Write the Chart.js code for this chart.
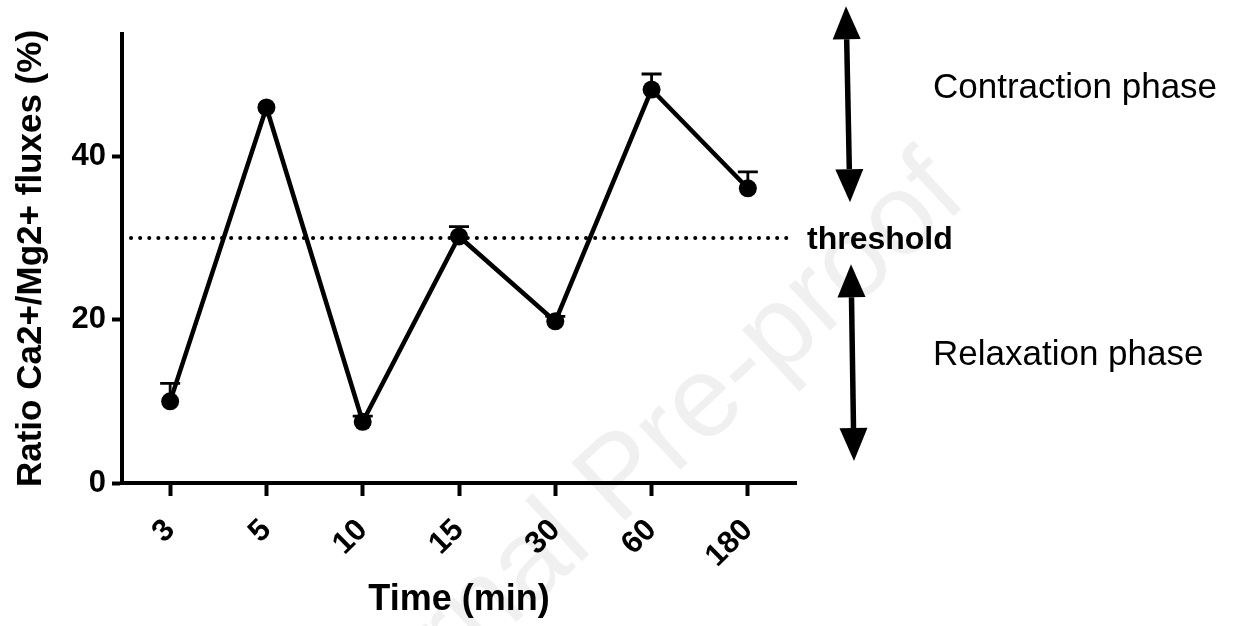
<!DOCTYPE html>
<html lang="en">
<head>
<meta charset="UTF-8">
<title>Ratio Ca2+/Mg2+ fluxes</title>
<script src="https://cdn.jsdelivr.net/npm/chart.js"></script>
<style>
    html, body { margin: 0; padding: 0; background: #fff; }
    #wrap { width: 1238px; height: 626px; }
</style>
</head>
<body>
<div id="wrap"><canvas id="fluxChart" width="1238" height="626"></canvas></div>
<script>
    // data
    const timeLabels = ['3', '5', '10', '15', '30', '60', '180'];
    const ratioMean = [10.0, 46.0, 7.5, 30.2, 19.8, 48.2, 36.1];
    const ratioSem = [2.2, 0, 0.7, 1.2, 0.6, 1.9, 2.0];
    const thresholdValue = 30;
    const yTicks = [0, 20, 40];

    const FONT = "'Liberation Sans', Arial, Helvetica, sans-serif";

    // upper error bars (mean + SEM), hidden when too small to show
    const errorBars = {
        id: 'errorBars',
        beforeDatasetsDraw(chart) {
            const ctx = chart.ctx;
            const xs = chart.scales.x, ys = chart.scales.y;
            ctx.save();
            ctx.strokeStyle = '#000';
            ctx.lineWidth = 2.8;
            ratioMean.forEach((m, i) => {
                if (!ratioSem[i]) return;
                const x = xs.getPixelForValue(i);
                const y0 = ys.getPixelForValue(m);
                const y1 = ys.getPixelForValue(m + ratioSem[i]);
                ctx.beginPath();
                ctx.moveTo(x, y0);
                ctx.lineTo(x, y1);
                ctx.moveTo(x - 10, y1);
                ctx.lineTo(x + 10, y1);
                ctx.stroke();
            });
            ctx.restore();
        }
    };

    // dotted threshold line + label
    const thresholdLine = {
        id: 'thresholdLine',
        beforeDatasetsDraw(chart) {
            const ctx = chart.ctx;
            const area = chart.chartArea;
            const y = chart.scales.y.getPixelForValue(thresholdValue);
            ctx.save();
            ctx.strokeStyle = '#000';
            ctx.lineWidth = 4;
            ctx.lineCap = 'round';
            ctx.setLineDash([0.1, 9]);
            ctx.beginPath();
            ctx.moveTo(area.left + 9, y);
            ctx.lineTo(area.right - 3, y);
            ctx.stroke();
            ctx.setLineDash([]);
            ctx.fillStyle = '#000';
            ctx.font = 'bold 32px ' + FONT;
            ctx.textBaseline = 'alphabetic';
            ctx.fillText('threshold', area.right + 11, y + 11);
            ctx.restore();
        }
    };

    function doubleArrow(ctx, x1, y1, x2, y2) {
        const head = 33, half = 14;
        const ang = Math.atan2(y2 - y1, x2 - x1);
        const c = Math.cos(ang), s = Math.sin(ang);
        ctx.beginPath();
        ctx.moveTo(x1 + c * head, y1 + s * head);
        ctx.lineTo(x2 - c * head, y2 - s * head);
        ctx.stroke();
        [[x1, y1, 1], [x2, y2, -1]].forEach(([x, y, d]) => {
            const bx = x + d * c * head, by = y + d * s * head;
            ctx.beginPath();
            ctx.moveTo(x, y);
            ctx.lineTo(bx - s * half, by + c * half);
            ctx.lineTo(bx + s * half, by - c * half);
            ctx.closePath();
            ctx.fill();
        });
    }

    // phase arrows and labels on the right
    const phases = {
        id: 'phases',
        afterDraw(chart) {
            const ctx = chart.ctx;
            const r = chart.chartArea.right;
            const ys = chart.scales.y;
            ctx.save();
            ctx.strokeStyle = '#000';
            ctx.fillStyle = '#000';
            ctx.lineWidth = 5.5;
            doubleArrow(ctx, r + 50, ys.getPixelForValue(58.4), r + 54, ys.getPixelForValue(34.4));
            doubleArrow(ctx, r + 55, ys.getPixelForValue(26.8), r + 58, ys.getPixelForValue(2.7));
            ctx.font = '35px ' + FONT;
            ctx.fillText('Contraction phase', r + 137, ys.getPixelForValue(47.2));
            ctx.fillText('Relaxation phase', r + 137, ys.getPixelForValue(14.5));
            ctx.restore();
        }
    };

    // faint "Journal Pre-proof" watermark
    const watermark = {
        id: 'watermark',
        beforeDraw(chart) {
            const ctx = chart.ctx;
            ctx.save();
            ctx.translate(948, 178);
            ctx.rotate(-Math.PI / 4.2);
            ctx.font = '115px ' + FONT;
            ctx.fillStyle = 'rgba(0, 0, 0, 0.06)';
            ctx.textAlign = 'right';
            ctx.textBaseline = 'middle';
            ctx.fillText('Journal Pre-proof', 0, 0);
            ctx.restore();
        }
    };

    const ctx = document.getElementById('fluxChart').getContext('2d');
    new Chart(ctx, {
        type: 'line',
        data: {
            labels: timeLabels,
            datasets: [{
                data: ratioMean,
                borderColor: '#000',
                backgroundColor: '#000',
                borderWidth: 4.5,
                pointRadius: 9,
                pointBorderWidth: 0,
                pointBackgroundColor: '#000',
                tension: 0,
                fill: false
            }]
        },
        options: {
            responsive: false,
            animation: false,
            layout: { padding: { top: 34, right: 442, left: 0, bottom: 0 } },
            plugins: {
                legend: { display: false },
                tooltip: { enabled: false }
            },
            scales: {
                x: {
                    offset: true,
                    grid: { display: true, drawOnChartArea: false, drawTicks: true, tickLength: 13, tickWidth: 4, tickColor: '#000' },
                    border: { display: true, color: '#000', width: 4 },
                    ticks: {
                        autoSkip: false, minRotation: 45, maxRotation: 45,
                        color: '#000', padding: 16,
                        font: { family: FONT, size: 31, weight: 'bold' }
                    },
                    title: {
                        display: true, text: 'Time (min)', color: '#000',
                        font: { family: FONT, size: 36, weight: 'bold' },
                        padding: { top: 0, bottom: 4 }
                    },
                    afterFit: s => { s.height = 143; }
                },
                y: {
                    min: 0,
                    max: 55,
                    grid: { display: true, drawOnChartArea: false, drawTicks: true, tickLength: 10, tickWidth: 4, tickColor: '#000' },
                    border: { display: true, color: '#000', width: 4 },
                    ticks: {
                        includeBounds: false,
                        color: '#000', padding: 6,
                        font: { family: FONT, size: 31, weight: 'bold' }
                    },
                    afterBuildTicks: s => { s.ticks = yTicks.map(v => ({ value: v })); },
                    title: {
                        display: true, text: 'Ratio Ca2+/Mg2+ fluxes (%)', color: '#000',
                        font: { family: FONT, size: 35, weight: 'bold' },
                        padding: { top: 10, bottom: 0 }
                    },
                    afterFit: s => { s.width = 122; }
                }
            }
        },
        plugins: [watermark, thresholdLine, errorBars, phases]
    });
</script>
</body>
</html>
